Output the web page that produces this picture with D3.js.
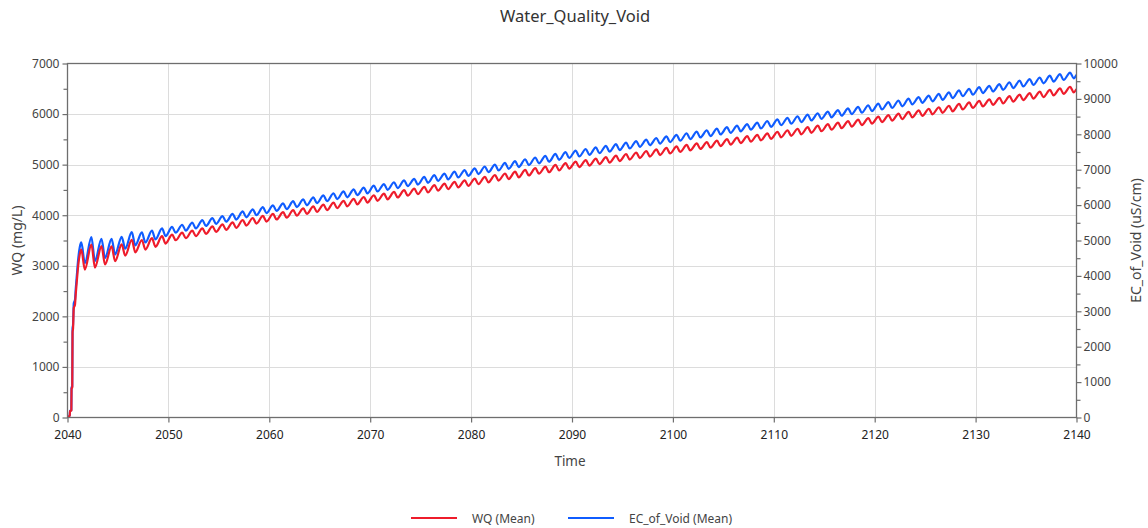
<!DOCTYPE html>
<html>
<head>
<meta charset="utf-8">
<script src="https://cdn.jsdelivr.net/npm/d3@7"></script>
<style>
  body { margin: 0; background: #ffffff; }
  svg { display: block; }
  text { font-family: "Noto Sans", "DejaVu Sans", sans-serif; }
</style>
</head>
<body>
<svg id="chart" width="1148" height="528"></svg>
<script>
// ---- Data ---------------------------------------------------------------
const chartTitle = "Water_Quality_Void";
const seriesNames = ["WQ (Mean)", "EC_of_Void (Mean)"];

// Initial fill-up period (decimal years)
const rampTime = [2040.00, 2040.08, 2040.22, 2040.25, 2040.38, 2040.40, 2040.47, 2040.50,
                  2040.55, 2040.62, 2040.74, 2040.82, 2040.91, 2041.07, 2041.22];
const rampWQ   = [0, 10, 40, 125, 140, 570, 590, 1690, 1760, 2160, 2230, 2450, 2660, 3020, 3230];
const rampEC   = [0, 15, 60, 185, 210, 850, 880, 2520, 2620, 3220, 3320, 3650, 3965, 4500, 4815];

// Seasonal cycle: each year has a high and a low (fraction of the year)
const peakPhase = 0.37;
const troughPhase = 0.72;
const cycleYears = d3.range(2041, 2140);

const wqPeak = [
  3320, 3420, 3390, 3385, 3425, 3515, 3510, 3545, 3585,
  3615, 3655, 3695, 3740, 3780, 3820, 3860, 3905, 3945, 3985,
  4025, 4060, 4100, 4135, 4175, 4210, 4250, 4285, 4325, 4360,
  4395, 4425, 4460, 4495, 4525, 4560, 4595, 4625, 4660, 4690,
  4725, 4760, 4795, 4825, 4860, 4895, 4930, 4960, 4995, 5030,
  5060, 5090, 5120, 5150, 5180, 5210, 5240, 5270, 5300, 5330,
  5360, 5390, 5420, 5445, 5475, 5505, 5535, 5565, 5590, 5620,
  5650, 5680, 5710, 5740, 5770, 5800, 5830, 5860, 5890, 5920,
  5950, 5980, 6010, 6045, 6075, 6105, 6135, 6165, 6200, 6230,
  6260, 6290, 6320, 6355, 6385, 6415, 6445, 6480, 6510, 6540
];
const wqTrough = [
  2925, 2965, 3025, 3090, 3200, 3265, 3320, 3375, 3440,
  3505, 3545, 3585, 3630, 3670, 3710, 3750, 3795, 3835, 3875,
  3915, 3950, 3990, 4025, 4065, 4100, 4140, 4175, 4215, 4250,
  4285, 4315, 4350, 4385, 4415, 4450, 4485, 4515, 4550, 4580,
  4615, 4650, 4685, 4715, 4750, 4785, 4820, 4850, 4885, 4920,
  4950, 4980, 5010, 5040, 5070, 5100, 5130, 5160, 5190, 5220,
  5250, 5280, 5310, 5335, 5365, 5395, 5425, 5455, 5480, 5510,
  5540, 5570, 5600, 5630, 5660, 5690, 5720, 5750, 5780, 5810,
  5840, 5870, 5900, 5935, 5965, 5995, 6025, 6055, 6090, 6120,
  6150, 6180, 6210, 6245, 6275, 6305, 6335, 6370, 6400, 6430
];
const ecPeak = [
  4945, 5095, 5050, 5045, 5105, 5235, 5230, 5280, 5340,
  5385, 5445, 5505, 5575, 5630, 5690, 5750, 5820, 5880, 5940,
  5995, 6050, 6110, 6160, 6220, 6275, 6335, 6385, 6445, 6495,
  6550, 6595, 6645, 6700, 6740, 6795, 6845, 6890, 6945, 6990,
  7040, 7090, 7145, 7190, 7240, 7295, 7345, 7390, 7445, 7495,
  7540, 7585, 7630, 7675, 7720, 7765, 7810, 7850, 7895, 7940,
  7985, 8030, 8075, 8115, 8160, 8200, 8245, 8290, 8330, 8375,
  8420, 8465, 8510, 8555, 8595, 8640, 8685, 8730, 8775, 8820,
  8865, 8910, 8955, 9005, 9050, 9095, 9140, 9185, 9240, 9285,
  9330, 9370, 9415, 9470, 9515, 9560, 9605, 9655, 9700, 9745
];
const ecTrough = [
  4360, 4420, 4505, 4605, 4770, 4865, 4945, 5030, 5125,
  5220, 5280, 5340, 5410, 5470, 5530, 5590, 5655, 5715, 5775,
  5835, 5885, 5945, 5995, 6055, 6110, 6170, 6220, 6280, 6330,
  6385, 6430, 6480, 6535, 6580, 6630, 6685, 6725, 6780, 6825,
  6875, 6930, 6980, 7025, 7075, 7130, 7180, 7225, 7280, 7330,
  7375, 7420, 7465, 7510, 7555, 7600, 7645, 7690, 7735, 7780,
  7820, 7865, 7910, 7950, 7995, 8040, 8085, 8130, 8165, 8210,
  8255, 8300, 8345, 8390, 8435, 8480, 8525, 8570, 8610, 8655,
  8700, 8745, 8790, 8845, 8890, 8930, 8975, 9020, 9075, 9120,
  9165, 9210, 9255, 9305, 9350, 9395, 9440, 9490, 9535, 9580
];

// Value at the end of the run (2140.0)
const endTime = 2140;
const endWQ = 6495;
const endEC = 9680;

// Axis ticks
const xTicks = d3.range(2040, 2141, 10);
const wqTicks = d3.range(0, 7001, 1000);
const wqMinor = d3.range(500, 7000, 1000);
const ecTicks = d3.range(0, 10001, 1000);
const ecMinor = d3.range(500, 10000, 1000);

// ---- Layout -------------------------------------------------------------
const plot = { left: 67.5, right: 1076.5, top: 63.5, bottom: 417.5 };
const colors = { wq: "#ee1c2b", ec: "#0f5cff", grid: "#dcdcdc", frame: "#6e6e6e", text: "#444" };

const svg = d3.select("#chart");

const x = d3.scaleLinear().domain([2040, 2140]).range([plot.left, plot.right]);
const yL = d3.scaleLinear().domain([0, 7000]).range([plot.bottom, plot.top]);
const yR = d3.scaleLinear().domain([0, 10000]).range([plot.bottom, plot.top]);

function buildSeries(rT, rV, peaks, troughs, eV) {
  const pts = rT.map((t, i) => [t, rV[i]]);
  cycleYears.forEach((yr, i) => {
    pts.push([yr + peakPhase, peaks[i]]);
    pts.push([yr + troughPhase, troughs[i]]);
  });
  pts.push([endTime, eV]);
  return pts;
}
const wqSeries = buildSeries(rampTime, rampWQ, wqPeak, wqTrough, endWQ);
const ecSeries = buildSeries(rampTime, rampEC, ecPeak, ecTrough, endEC);

// Gridlines
const grid = svg.append("g").attr("stroke", colors.grid).attr("stroke-width", 1);
grid.selectAll("line.v").data(xTicks.slice(1, -1)).join("line")
  .attr("x1", d => Math.round(x(d)) + 0.5).attr("x2", d => Math.round(x(d)) + 0.5)
  .attr("y1", plot.top).attr("y2", plot.bottom);
grid.selectAll("line.h").data(wqTicks.slice(1, -1)).join("line")
  .attr("x1", plot.left).attr("x2", plot.right)
  .attr("y1", d => Math.round(yL(d)) + 0.5).attr("y2", d => Math.round(yL(d)) + 0.5);

// Lines
svg.append("defs").append("clipPath").attr("id", "plotClip")
  .append("rect").attr("x", plot.left).attr("y", plot.top - 2)
  .attr("width", plot.right - plot.left).attr("height", plot.bottom - plot.top + 2);

const lineL = d3.line().x(d => x(d[0])).y(d => yL(d[1])).curve(d3.curveMonotoneX);
const lineR = d3.line().x(d => x(d[0])).y(d => yR(d[1])).curve(d3.curveMonotoneX);

const lines = svg.append("g").attr("clip-path", "url(#plotClip)");
lines.append("path").datum(ecSeries).attr("d", lineR)
  .attr("fill", "none").attr("stroke", colors.ec).attr("stroke-width", 2.2).attr("stroke-linejoin", "round");
lines.append("path").datum(wqSeries).attr("d", lineL)
  .attr("fill", "none").attr("stroke", colors.wq).attr("stroke-width", 2.2).attr("stroke-linejoin", "round");

// Frame
svg.append("rect").attr("x", plot.left).attr("y", plot.top)
  .attr("width", plot.right - plot.left).attr("height", plot.bottom - plot.top)
  .attr("fill", "none").attr("stroke", colors.frame).attr("stroke-width", 1.3);

// Axes
function styleAxis(g) {
  g.select(".domain").remove();
  g.selectAll(".tick line").attr("stroke", colors.frame).attr("stroke-width", 1.2);
  g.selectAll(".tick text").attr("fill", colors.text).attr("font-size", 12);
}

svg.append("g").attr("transform", `translate(${plot.left},0)`)
  .call(d3.axisLeft(yL).tickValues(wqTicks).tickSize(5).tickPadding(3).tickFormat(d3.format("d")))
  .call(styleAxis);
svg.append("g").attr("transform", `translate(${plot.left},0)`)
  .call(d3.axisLeft(yL).tickValues(wqMinor).tickSize(4).tickFormat(""))
  .call(styleAxis);

svg.append("g").attr("transform", `translate(${plot.right},0)`)
  .call(d3.axisRight(yR).tickValues(ecTicks).tickSize(5).tickPadding(2).tickFormat(d3.format("d")))
  .call(styleAxis);
svg.append("g").attr("transform", `translate(${plot.right},0)`)
  .call(d3.axisRight(yR).tickValues(ecMinor).tickSize(4).tickFormat(""))
  .call(styleAxis);

svg.append("g").attr("transform", `translate(0,${plot.bottom})`)
  .call(d3.axisBottom(x).tickValues(xTicks).tickSize(5).tickPadding(8).tickFormat(d3.format("d")))
  .call(styleAxis)
  .selectAll(".tick text").attr("fill", "#222");

// Titles
svg.append("text").attr("x", 575).attr("y", 22).attr("text-anchor", "middle")
  .attr("font-size", 16.5).attr("fill", "#333").text(chartTitle);
svg.append("text").attr("x", 570).attr("y", 466).attr("text-anchor", "middle")
  .attr("font-size", 13.5).attr("fill", colors.text).text("Time");
svg.append("text").attr("transform", `translate(22,${(plot.top + plot.bottom) / 2}) rotate(-90)`)
  .attr("text-anchor", "middle").attr("font-size", 14).attr("fill", colors.text).text("WQ (mg/L)");
svg.append("text").attr("transform", `translate(1141,${(plot.top + plot.bottom) / 2}) rotate(-90)`)
  .attr("text-anchor", "middle").attr("font-size", 14).attr("fill", colors.text).text("EC_of_Void (uS/cm)");

// Legend
const legend = [
  { name: seriesNames[0], color: colors.wq, x0: 411 },
  { name: seriesNames[1], color: colors.ec, x0: 568 }
];
const lg = svg.append("g");
legend.forEach(it => {
  lg.append("line").attr("x1", it.x0).attr("x2", it.x0 + 46).attr("y1", 518).attr("y2", 518)
    .attr("stroke", it.color).attr("stroke-width", 2);
  lg.append("text").attr("x", it.x0 + 61).attr("y", 522.5).attr("font-size", 12)
    .attr("fill", colors.text).text(it.name);
});
</script>
</body>
</html>
